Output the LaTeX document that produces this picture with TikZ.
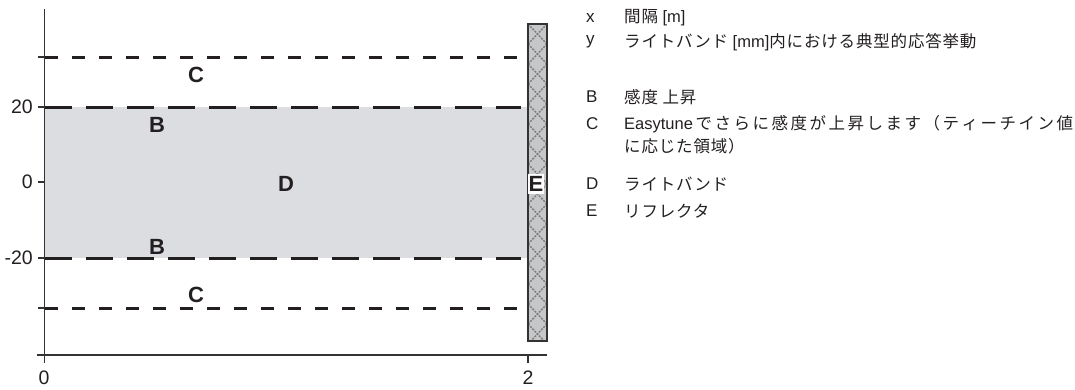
\documentclass[tikz,border=0pt]{standalone}
\usepackage{fontspec}
\setmainfont{Liberation Sans}
\newfontfamily\jp[LetterSpace=5]{Noto Sans CJK JP}
\definecolor{ink}{HTML}{231F20}
\definecolor{axisc}{HTML}{333333}
\definecolor{bandc}{HTML}{DCDDE0}
\definecolor{reflc}{HTML}{C6C7C9}
\definecolor{hatchc}{HTML}{7E7E7E}
\tikzset{
  axisline/.style={draw=axisc, line width=1.6pt},
  tickline/.style={draw=axisc, line width=1.3pt},
  bline/.style={draw=ink, line width=3pt, dash pattern=on 27pt off 14pt},
  cline/.style={draw=ink, line width=3pt, dash pattern=on 13pt off 14pt},
  ticklabel/.style={font=\fontsize{19.5}{21}\selectfont, text=ink, inner sep=0pt},
  zonelabel/.style={font=\fontsize{22}{24}\selectfont\bfseries, text=ink, inner sep=0pt},
  keyletter/.style={font=\fontsize{17}{19}\selectfont, text=ink, anchor=west, inner sep=0pt},
  keytext/.style={font=\fontsize{16.5}{19}\selectfont, text=ink, anchor=west, inner sep=0pt},
}
\begin{document}
\begin{tikzpicture}[x=1pt,y=-1pt]
\useasboundingbox (0,0) rectangle (1075,389);
% band
\fill[bandc] (45,107) rectangle (528,258);
% dashed lines
\draw[cline] (45,57) -- (521,57);
\draw[bline] (45,107) -- (521,107);
\draw[bline] (45,258) -- (521,258);
\draw[cline] (45,308) -- (521,308);
% reflector
\fill[reflc] (528,24) rectangle (547,341);
\begin{scope}
  \clip (528,24) rectangle (547,341);
  \foreach \yy in {24,44,...,344} {
    \draw[hatchc, line width=1.5pt, dash pattern=on 2pt off 1.2pt] (528,\yy) -- (547,\yy+20);
    \draw[hatchc, line width=1.5pt, dash pattern=on 2pt off 1.2pt] (547,\yy) -- (528,\yy+20);
  }
\end{scope}
\draw[draw=axisc, line width=1.2pt] (528,24) rectangle (547,341);
% axes
\coordinate (ytop) at (44.5,9);
\coordinate (ybot) at (44.5,363);
\coordinate (xleft) at (37,355);
\coordinate (xright) at (547,355);
\draw[axisline] (ytop) -- (ybot);
\draw[axisline] (xleft) -- (xright);
\foreach \yy in {57,107,182,258,308} {
  \draw[tickline] (38,\yy) -- (44.5,\yy);
}
\coordinate (t2a) at (528,355);
\coordinate (t2b) at (528,363);
\draw[tickline] (t2a) -- (t2b);
% tick labels
\node[ticklabel, anchor=east] (l20) at (33,107) {20};
\node[ticklabel, anchor=east] (l0) at (33,182) {0};
\node[ticklabel, anchor=east] (lm20) at (33,258) {-20};
\node[ticklabel] (lx0) at (44,378) {0};
\node[ticklabel] (lx2) at (528,378) {2};
% zone labels
\node[zonelabel] (c1) at (196,75) {C};
\node[zonelabel] (b1) at (157,125) {B};
\node[zonelabel] (d) at (286,184) {D};
\node[zonelabel, fill=white, inner xsep=0.4pt, inner ysep=2pt] (e) at (536,184) {E};
\node[zonelabel] (b2) at (157,247) {B};
\node[zonelabel] (c2) at (196,295) {C};
% legend
\node[keyletter] (kx) at (586,18) {x};
\node[keytext] (tx) at (624,18) {{\jp 間隔} [m]};
\node[keyletter] (ky) at (586,42) {y};
\node[keytext] (ty) at (624,42) {{\jp ライトバンド} [mm]{\jp 内における典型的応答挙動}};
\node[keyletter] (kb) at (586,97) {B};
\node[keytext] (tb) at (624,97) {{\jp 感度 上昇}};
\node[keyletter] (kc) at (586,124) {C};
\node[keytext] (tc) at (624,124) {\makebox[449pt][s]{Easytune\hfil\jp で\hfil さ\hfil ら\hfil に\hfil 感\hfil 度\hfil が\hfil 上\hfil 昇\hfil し\hfil ま\hfil す\hfil （\hfil テ\hfil ィ\hfil ー\hfil チ\hfil イ\hfil ン\hfil 値}};
\node[keytext] (tc2) at (624,146) {{\jp に応じた領域）}};
\node[keyletter] (kd) at (586,184) {D};
\node[keytext] (td) at (624,184) {{\jp ライトバンド}};
\node[keyletter] (ke) at (586,211) {E};
\node[keytext] (te) at (624,211) {{\jp リフレクタ}};
\end{tikzpicture}
\end{document}
